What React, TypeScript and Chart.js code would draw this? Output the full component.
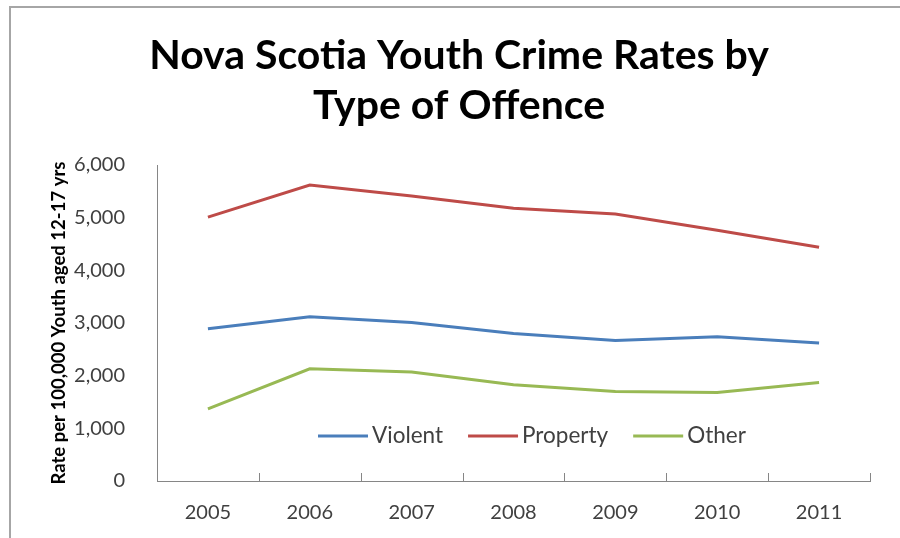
import React, { useEffect, useRef } from "react";
import { Chart, registerables } from "chart.js";

Chart.register(...registerables);

const years = ["2005", "2006", "2007", "2008", "2009", "2010", "2011"];
const violent = [2890, 3120, 3010, 2800, 2670, 2740, 2620];
const property = [5010, 5620, 5410, 5180, 5070, 4760, 4440];
const other = [1370, 2130, 2070, 1830, 1700, 1680, 1870];
const seriesNames = ["Violent", "Property", "Other"];
const seriesColors = ["#4A7EBB", "#BE4B48", "#98B954"];
const titleLines = ["Nova Scotia Youth Crime Rates by", "Type of Offence"];
const yAxisTitle = "Rate per 100,000 Youth aged 12-17 yrs";
const yMin = 0;
const yMax = 6000;
const yStep = 1000;

const FONT = "Lato, 'Open Sans', sans-serif";
const AXIS_COLOR = "#868686";

const xTickMarks = {
  id: "xTickMarks",
  afterDraw(chart: any) {
    const x = chart.scales.x;
    const ctx = chart.ctx;
    const bottom = chart.chartArea.bottom;
    ctx.save();
    ctx.strokeStyle = AXIS_COLOR;
    ctx.lineWidth = 1;
    for (let i = 0; i <= years.length; i++) {
      const px = Math.round(x.getPixelForValue(i - 0.5)) + 0.5;
      ctx.beginPath();
      ctx.moveTo(px, bottom);
      ctx.lineTo(px, bottom - 8);
      ctx.stroke();
    }
    ctx.restore();
  },
};

const innerLegend = {
  id: "innerLegend",
  afterDraw(chart: any) {
    const ctx = chart.ctx;
    const area = chart.chartArea;
    ctx.save();
    ctx.font = `22.5px ${FONT}`;
    ctx.textBaseline = "middle";
    ctx.textAlign = "left";
    const lineLen = 50;
    const gap = 4;
    const spacing = 25;
    let x = area.left + 161;
    const y = area.bottom - 45;
    chart.data.datasets.forEach((ds: any) => {
      ctx.strokeStyle = ds.borderColor;
      ctx.lineWidth = 3;
      ctx.beginPath();
      ctx.moveTo(x, y);
      ctx.lineTo(x + lineLen, y);
      ctx.stroke();
      x += lineLen + gap;
      ctx.fillStyle = "#404040";
      ctx.fillText(ds.label, x, y);
      x += ctx.measureText(ds.label).width + spacing;
    });
    ctx.restore();
  },
};

export default function App() {
  const canvasRef = useRef<HTMLCanvasElement | null>(null);

  useEffect(() => {
    if (!canvasRef.current) return;
    const seriesData = [violent, property, other];
    const chart = new Chart(canvasRef.current, {
      type: "line",
      data: {
        labels: years,
        datasets: seriesNames.map((name, i) => ({
          label: name,
          data: seriesData[i],
          borderColor: seriesColors[i],
          backgroundColor: seriesColors[i],
          borderWidth: 3,
          pointRadius: 0,
          tension: 0,
          fill: false,
        })),
      },
      options: {
        animation: false,
        responsive: false,
        devicePixelRatio: 1,
        layout: { padding: { left: 48, right: 30, top: 0, bottom: 0 } },
        plugins: {
          legend: { display: false },
          tooltip: { enabled: false },
          title: {
            display: true,
            text: titleLines,
            color: "#000000",
            font: { family: FONT, size: 41, weight: "bold", lineHeight: 1.22 },
            padding: { top: 31, bottom: 34 },
          },
        },
        scales: {
          x: {
            type: "category",
            offset: true,
            grid: { display: false },
            border: { display: true, color: AXIS_COLOR, width: 1 },
            ticks: {
              color: "#404040",
              font: { family: FONT, size: 20 },
              padding: 12,
              maxRotation: 0,
            },
            afterFit(scale: any) {
              scale.height = 57;
            },
          },
          y: {
            min: yMin,
            max: yMax,
            grid: { display: false },
            border: { display: true, color: AXIS_COLOR, width: 1 },
            ticks: {
              stepSize: yStep,
              color: "#404040",
              font: { family: FONT, size: 20 },
              padding: 24,
              callback: (v: any) => Number(v).toLocaleString("en-US"),
            },
            title: {
              display: true,
              text: yAxisTitle,
              color: "#000000",
              font: { family: FONT, size: 18.5, weight: "bold" },
              padding: { top: 0, bottom: 0 },
            },
            afterFit(scale: any) {
              scale.width = 109;
            },
          },
        },
      },
      plugins: [xTickMarks, innerLegend],
    });
    return () => chart.destroy();
  }, []);

  return (
    <div style={{ position: "fixed", left: 0, top: 0, width: 900, height: 538, background: "#ffffff" }}>
      <div
        style={{
          position: "absolute",
          left: 9,
          top: 6,
          right: -10,
          bottom: -10,
          borderLeft: "2px solid #a6a6a6",
          borderTop: "2px solid #a6a6a6",
        }}
      />
      <canvas
        ref={canvasRef}
        width={900}
        height={538}
        style={{ position: "absolute", left: 0, top: 0, width: 900, height: 538 }}
      />
    </div>
  );
}
